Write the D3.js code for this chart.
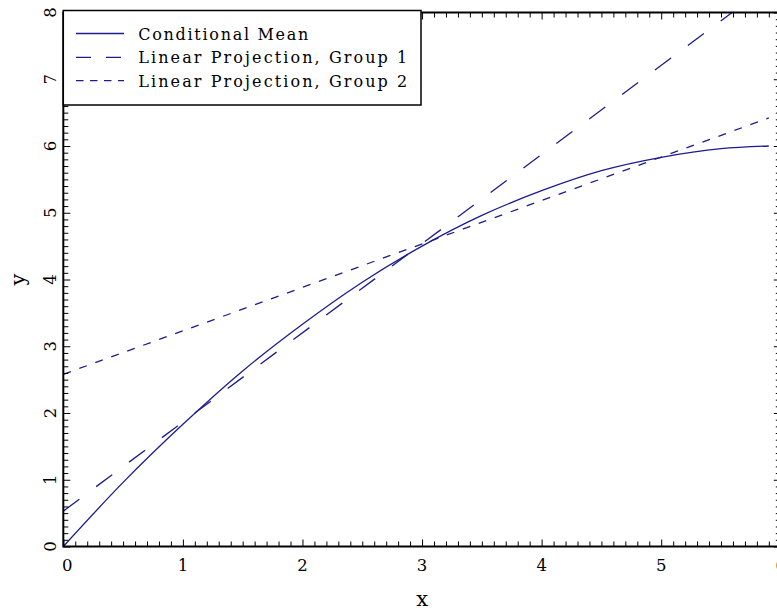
<!DOCTYPE html>
<html>
<head>
<meta charset="utf-8">
<script src="https://cdn.jsdelivr.net/npm/d3@7"></script>
<style>
  html, body { margin: 0; padding: 0; background: #fff; }
  svg { display: block; }
  text { font-family: "DejaVu Serif", "Liberation Serif", serif; fill: #000; }
</style>
</head>
<body>
<div id="chart"></div>
<script>
// ---- data ----
const meanX = [0, 0.5, 1, 1.5, 2, 2.5, 3, 3.5, 4, 4.5, 5, 5.5, 5.9];
const meanY = [0, 0.96, 1.83, 2.63, 3.33, 3.96, 4.5, 4.96, 5.33, 5.63, 5.83, 5.96, 6.0];
const group1X = [0, 5.9];
const group1Y = [0.53, 8.41];
const group2X = [0, 5.9];
const group2Y = [2.58, 6.42];
const xTicks = [0, 1, 2, 3, 4, 5, 6];
const yTicks = [0, 1, 2, 3, 4, 5, 6, 7, 8];
const seriesNames = ["Conditional Mean", "Linear Projection, Group 1", "Linear Projection, Group 2"];

const W = 777, H = 610;
const lineColor = "#1c1c8e";
const dashes = [null, "20,21", "8,9"];

const x = d3.scaleLinear().domain([0, 6]).range([63.3, 780.8]);
const y = d3.scaleLinear().domain([0, 8]).range([546.5, 12.5]);

const svg = d3.select("#chart").append("svg").attr("width", W).attr("height", H);

svg.append("defs").append("clipPath").attr("id", "plotclip")
  .append("rect").attr("x", x(0)).attr("y", y(8))
  .attr("width", x(6) - x(0)).attr("height", y(0) - y(8));

// ---- series ----
const line = d3.line().x(d => x(d[0])).y(d => y(d[1]));
const series = [
  { pts: d3.zip(meanX, meanY), curve: d3.curveMonotoneX },
  { pts: d3.zip(group1X, group1Y), curve: d3.curveLinear },
  { pts: d3.zip(group2X, group2Y), curve: d3.curveLinear }
];
const plot = svg.append("g").attr("clip-path", "url(#plotclip)");
series.forEach((s, i) => {
  plot.append("path")
    .attr("d", line.curve(s.curve)(s.pts))
    .attr("fill", "none")
    .attr("stroke", lineColor)
    .attr("stroke-width", 1.3)
    .attr("stroke-dasharray", dashes[i]);
});

// ---- axes with inward ticks ----
const minorX = d3.range(0, 60.5).map(v => v / 10).filter(v => Math.abs(v - Math.round(v)) > 1e-6);
const minorY = d3.range(0, 80.5).map(v => v / 10).filter(v => Math.abs(v - Math.round(v)) > 1e-6);

function addAxis(axisFn, scale, values, size, transform) {
  const g = svg.append("g").attr("transform", transform)
    .call(axisFn(scale).tickValues(values).tickSize(size).tickSizeOuter(0).tickFormat(""));
  g.select(".domain").remove();
  g.selectAll(".tick line").attr("stroke", "#000").attr("stroke-width", 1);
  return g;
}
// bottom
addAxis(d3.axisBottom, x, minorX, -5, `translate(0,${y(0)})`);
addAxis(d3.axisBottom, x, xTicks, -7, `translate(0,${y(0)})`);
// top
addAxis(d3.axisTop, x, minorX, -5, `translate(0,${y(8)})`);
addAxis(d3.axisTop, x, xTicks, -7, `translate(0,${y(8)})`);
// left
addAxis(d3.axisLeft, y, minorY, -5, `translate(${x(0)},0)`);
addAxis(d3.axisLeft, y, yTicks, -7, `translate(${x(0)},0)`);
// right
addAxis(d3.axisRight, y, minorY, -5, `translate(${x(6)},0)`);
addAxis(d3.axisRight, y, yTicks, -7, `translate(${x(6)},0)`);

// frame
svg.append("rect")
  .attr("x", x(0)).attr("y", y(8))
  .attr("width", x(6) - x(0)).attr("height", y(0) - y(8))
  .attr("fill", "none").attr("stroke", "#000").attr("stroke-width", 2);

// tick labels
svg.append("g").selectAll("text").data(xTicks).join("text")
  .attr("x", d => x(d) + (d === 0 ? 4 : 0)).attr("y", 571)
  .attr("text-anchor", "middle").attr("font-size", 16.5)
  .text(d => d);
svg.append("g").selectAll("text").data(yTicks).join("text")
  .attr("transform", d => `translate(55.5,${y(d)}) rotate(-90)`)
  .attr("text-anchor", "middle").attr("font-size", 16.5)
  .text(d => d);

// axis titles
svg.append("text").attr("x", (x(0) + x(6)) / 2).attr("y", 606)
  .attr("text-anchor", "middle").attr("font-size", 21).text("x");
svg.append("text")
  .attr("transform", `translate(25,${(y(0) + y(8)) / 2}) rotate(-90)`)
  .attr("text-anchor", "middle").attr("font-size", 21).text("y");

// ---- legend ----
const leg = svg.append("g");
leg.append("rect").attr("x", x(0)).attr("y", 10.5).attr("width", 421 - x(0)).attr("height", 94.5)
  .attr("fill", "#fff").attr("stroke", "#000").attr("stroke-width", 1.5);
const legRowY = [33.5, 57.3, 80.6];
const legWidths = [170, 269, 269];
seriesNames.forEach((name, i) => {
  leg.append("line").attr("x1", 76).attr("x2", 124)
    .attr("y1", legRowY[i]).attr("y2", legRowY[i])
    .attr("stroke", lineColor).attr("stroke-width", 1.3)
    .attr("stroke-dasharray", i === 1 ? "15,15" : (i === 2 ? "7.5,6.5" : null));
  leg.append("text").attr("x", 138.3).attr("y", legRowY[i] + 6)
    .attr("font-size", 16)
    .attr("textLength", legWidths[i]).attr("lengthAdjust", "spacing")
    .text(name);
});
</script>
</body>
</html>
